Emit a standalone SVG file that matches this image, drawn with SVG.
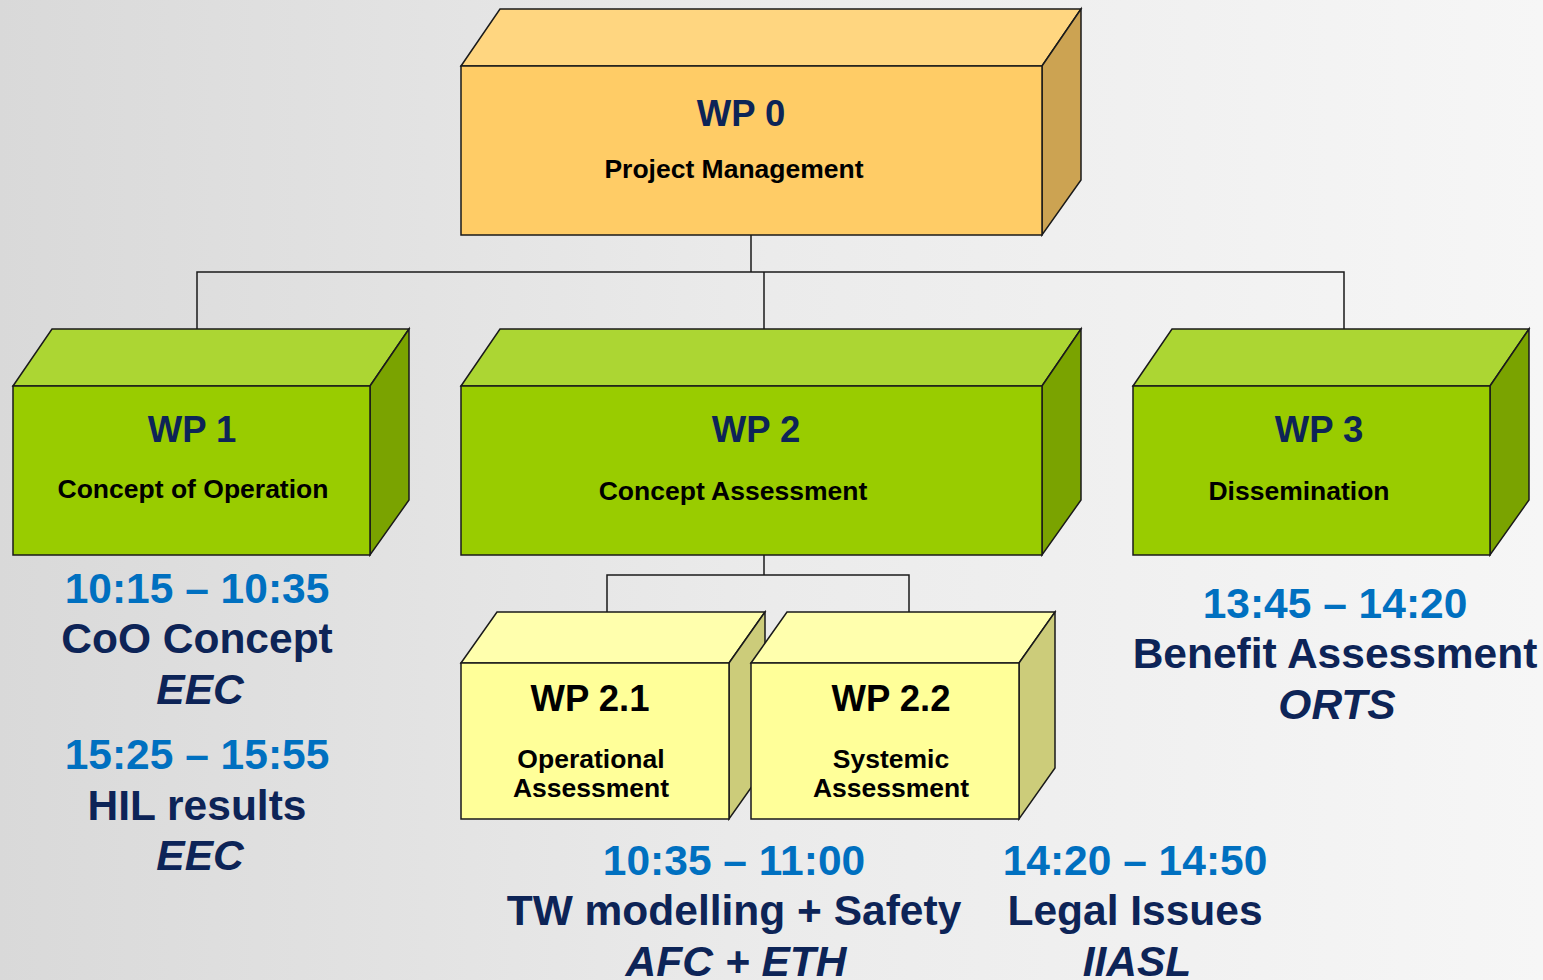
<svg xmlns="http://www.w3.org/2000/svg" width="1543" height="980" viewBox="0 0 1543 980">
<defs>
<linearGradient id="bg" x1="0" y1="0" x2="1" y2="0">
<stop offset="0" stop-color="#d9d9d9"/>
<stop offset="0.5" stop-color="#ebebeb"/>
<stop offset="1" stop-color="#f6f6f6"/>
</linearGradient>
<style>
.edge{stroke:#1a1a1a;stroke-width:1.5;stroke-linejoin:miter}
.o-front{fill:#ffcc66}.o-top{fill:#ffd680}.o-side{fill:#cca352}
.g-front{fill:#99cc00}.g-top{fill:#acd633}.g-side{fill:#7aa300}
.y-front{fill:#ffff99}.y-top{fill:#ffffad}.y-side{fill:#cccc7a}
.wp{font-family:"Liberation Sans",Arial,sans-serif;font-weight:bold;font-size:36.5px;fill:#0d2457;text-anchor:middle}
.wpb{font-family:"Liberation Sans",Arial,sans-serif;font-weight:bold;font-size:36.5px;fill:#000;text-anchor:middle}
.sub{font-family:"Liberation Sans",Arial,sans-serif;font-weight:bold;font-size:26.5px;fill:#000;text-anchor:middle}
.time{font-family:"Liberation Sans",Arial,sans-serif;font-weight:bold;font-size:42.5px;fill:#0070c0;text-anchor:middle}
.title{font-family:"Liberation Sans",Arial,sans-serif;font-weight:bold;font-size:42.5px;fill:#0d2457;text-anchor:middle}
.org{font-family:"Liberation Sans",Arial,sans-serif;font-weight:bold;font-style:italic;font-size:42.5px;fill:#0d2457;text-anchor:middle}
.conn{fill:none;stroke:#1a1a1a;stroke-width:1.5}
</style>
</defs>
<rect x="0" y="0" width="1543" height="980" fill="url(#bg)"/>

<g id="connectors">
<path class="conn" d="M751,235 V272"/>
<path class="conn" d="M197,329 V272 H1344 V329"/>
<path class="conn" d="M764,272 V329"/>
<path class="conn" d="M764,555 V575"/>
<path class="conn" d="M607,612 V575 H909 V612"/>
</g>

<g id="wp0">
<polygon class="o-top edge" points="461,66 500,9 1081,9 1042,66"/>
<polygon class="o-side edge" points="1042,66 1081,9 1081,180 1042,235"/>
<rect class="o-front edge" x="461" y="66" width="581" height="169"/>
<text class="wp" x="741" y="126">WP 0</text>
<text class="sub" x="734" y="178">Project Management</text>
</g>

<g id="wp1">
<polygon class="g-top edge" points="13,386 52,329 409,329 370,386"/>
<polygon class="g-side edge" points="370,386 409,329 409,500 370,555"/>
<rect class="g-front edge" x="13" y="386" width="357" height="169"/>
<text class="wp" x="192" y="442">WP 1</text>
<text class="sub" x="193" y="498">Concept of Operation</text>
</g>

<g id="wp2">
<polygon class="g-top edge" points="461,386 500,329 1081,329 1042,386"/>
<polygon class="g-side edge" points="1042,386 1081,329 1081,500 1042,555"/>
<rect class="g-front edge" x="461" y="386" width="581" height="169"/>
<text class="wp" x="756" y="442">WP 2</text>
<text class="sub" x="733" y="500">Concept Assessment</text>
</g>

<g id="wp3">
<polygon class="g-top edge" points="1133,386 1172,329 1529,329 1490,386"/>
<polygon class="g-side edge" points="1490,386 1529,329 1529,500 1490,555"/>
<rect class="g-front edge" x="1133" y="386" width="357" height="169"/>
<text class="wp" x="1319" y="442">WP 3</text>
<text class="sub" x="1299" y="500">Dissemination</text>
</g>

<g id="wp21">
<polygon class="y-top edge" points="461,663 497,612 765,612 729,663"/>
<polygon class="y-side edge" points="729,663 765,612 765,768 729,819"/>
<rect class="y-front edge" x="461" y="663" width="268" height="156"/>
<text class="wpb" x="590" y="711">WP 2.1</text>
<text class="sub" x="591" y="768">Operational</text>
<text class="sub" x="591" y="797">Assessment</text>
</g>

<g id="wp22">
<polygon class="y-top edge" points="751,663 787,612 1055,612 1019,663"/>
<polygon class="y-side edge" points="1019,663 1055,612 1055,768 1019,819"/>
<rect class="y-front edge" x="751" y="663" width="268" height="156"/>
<text class="wpb" x="891" y="711">WP 2.2</text>
<text class="sub" x="891" y="768">Systemic</text>
<text class="sub" x="891" y="797">Assessment</text>
</g>

<g id="session-wp1a">
<text class="time" x="197" y="603">10:15 – 10:35</text>
<text class="title" x="197" y="653">CoO Concept</text>
<text class="org" x="200" y="704">EEC</text>
</g>
<g id="session-wp1b">
<text class="time" x="197" y="769">15:25 – 15:55</text>
<text class="title" x="197" y="820">HIL results</text>
<text class="org" x="200" y="870">EEC</text>
</g>
<g id="session-wp3">
<text class="time" x="1335" y="618">13:45 – 14:20</text>
<text class="title" x="1335" y="668">Benefit Assessment</text>
<text class="org" x="1337" y="719">ORTS</text>
</g>
<g id="session-wp21">
<text class="time" x="734" y="875">10:35 – 11:00</text>
<text class="title" x="734" y="925">TW modelling + Safety</text>
<text class="org" x="736" y="976">AFC + ETH</text>
</g>
<g id="session-wp22">
<text class="time" x="1135" y="875">14:20 – 14:50</text>
<text class="title" x="1135" y="925">Legal Issues</text>
<text class="org" x="1137" y="976">IIASL</text>
</g>
</svg>
